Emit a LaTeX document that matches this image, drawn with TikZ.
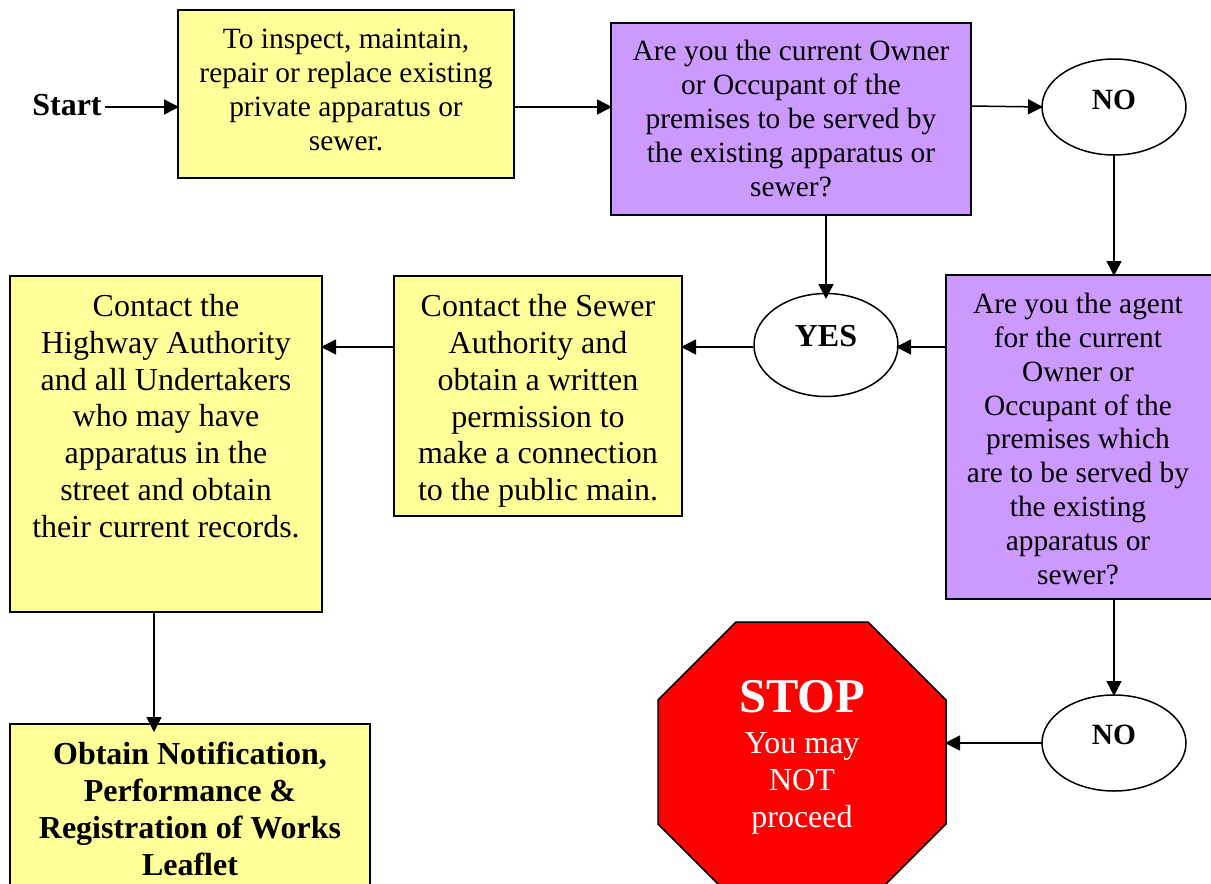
\documentclass[tikz,border=0pt]{standalone}
\usepackage{fontspec}
\setmainfont{Liberation Serif}
\usetikzlibrary{arrows.meta,shapes.geometric}
\definecolor{pyellow}{HTML}{FFFF99}
\definecolor{ppurple}{HTML}{CC99FF}
\tikzset{
  every node/.style={inner sep=0pt,outer sep=0pt},
  fs/.style n args={2}{font=\fontsize{#1}{#2}\selectfont,align=center},
  conn/.style={draw=black,line width=1.5pt,-{Triangle[length=15pt,width=15pt]},shorten >=-1pt},
}
\begin{document}
\begin{tikzpicture}[x=1pt,y=-1pt]
\useasboundingbox (0,0) rectangle (1211,884);
\clip (0,0) rectangle (1211,884);
% boxes
\node[draw=black,line width=1.5pt,fill=pyellow,minimum width=336pt,minimum height=168pt,anchor=north west] (inspect) at (178,10) {};
\node[fs={29.4}{34},anchor=center] (inspectT) at (346,90) {To inspect, maintain,\\repair or replace existing\\private apparatus or\\sewer.};
\node[draw=black,line width=1.5pt,fill=ppurple,minimum width=360pt,minimum height=192pt,anchor=north west] (owner) at (611,23) {};
\node[fs={29.4}{34}] (ownerT) at (791,119) {Are you the current Owner\\or Occupant of the\\premises to be served by\\the existing apparatus or\\sewer?};
\node[draw=black,line width=1.5pt,fill=white,ellipse,minimum width=144pt,minimum height=96pt] (no1) at (1114,107) {};
\node[font=\fontsize{29.4}{34}\selectfont\bfseries] (no1T) at (1114,100) {NO};
\node[draw=black,line width=1.5pt,fill=ppurple,minimum width=266pt,minimum height=324pt,anchor=north west] (agent) at (946,275) {};
\node[fs={29.4}{33.8}] (agentT) at (1078,439) {Are you the agent\\for the current\\Owner or\\Occupant of the\\premises which\\are to be served by\\the existing\\apparatus or\\sewer?};
\node[draw=black,line width=1.5pt,fill=white,ellipse,minimum width=144pt,minimum height=103pt] (yes) at (826,345) {};
\node[font=\fontsize{32}{37}\selectfont\bfseries] (yesT) at (826,336) {YES};
\node[draw=black,line width=1.5pt,fill=pyellow,minimum width=288pt,minimum height=240pt,anchor=north west] (sewer) at (394,276) {};
\node[fs={32}{36.8}] (sewerT) at (538,401) {Contact the Sewer\\Authority and\\obtain a written\\permission to\\make a connection\\to the public main.};
\node[draw=black,line width=1.5pt,fill=pyellow,minimum width=312pt,minimum height=336pt,anchor=north west] (highway) at (10,276) {};
\node[fs={32}{36.8}] (highwayT) at (166,416) {Contact the\\Highway Authority\\and all Undertakers\\who may have\\apparatus in the\\street and obtain\\their current records.};
\node[draw=black,line width=1.5pt,fill=pyellow,minimum width=360pt,minimum height=200pt,anchor=north west] (leaflet) at (10,724) {};
\node[font=\fontsize{32}{37}\selectfont\bfseries,align=center] (leafletT) at (190,809) {Obtain Notification,\\Performance \&\\Registration of Works\\Leaflet};
\node[draw=black,line width=1.5pt,fill=white,ellipse,minimum width=144pt,minimum height=96pt] (no2) at (1114,743) {};
\node[font=\fontsize{29.4}{34}\selectfont\bfseries] (no2T) at (1114,735) {NO};
\node[font=\fontsize{32}{37}\selectfont\bfseries] (start) at (67,105) {Start};
% octagon
\coordinate (stopE) at (946,743);
\draw[line width=1.5pt,fill=red] (736,622) -- (868,622) -- (946,700) -- (946,824) -- (868,902) -- (736,902) -- (658,824) -- (658,700) -- cycle;
\node[font=\fontsize{48.5}{52}\selectfont\bfseries,text=white] (stopT) at (802,697) {STOP};
\node[fs={32}{37},text=white] (stopS) at (802,783) {You may\\NOT\\proceed};
% connectors
\coordinate (yesL) at (753,347);
\coordinate (yesR) at (897,347);
\coordinate (yesT2) at (826,298);
\coordinate (leafT) at (154,731);
\draw[conn] (start.east) ++(3,2) coordinate (s1) -- (inspect.west |- s1);
\draw[conn] (inspect.east |- 0,107) coordinate (a1) -- (owner.west |- a1);
\draw[conn] (owner.east |- 0,106) coordinate (a2) -- (no1.west |- 0,107);
\draw[conn] (no1.south) -- (no1.south |- agent.north);
\draw[conn] (owner.south -| yesT2) -- (yesT2);
\draw[conn] (agent.west |- yesR) -- (yesR);
\draw[conn] (yesL) -- (sewer.east |- yesL);
\draw[conn] (sewer.west |- yesL) -- (highway.east |- yesL);
\draw[conn] (highway.south -| leafT) -- (leafT);
\draw[conn] (agent.south -| no2) -- (no2.north);
\draw[conn] (no2.west) -- (stopE);
\end{tikzpicture}
\end{document}
